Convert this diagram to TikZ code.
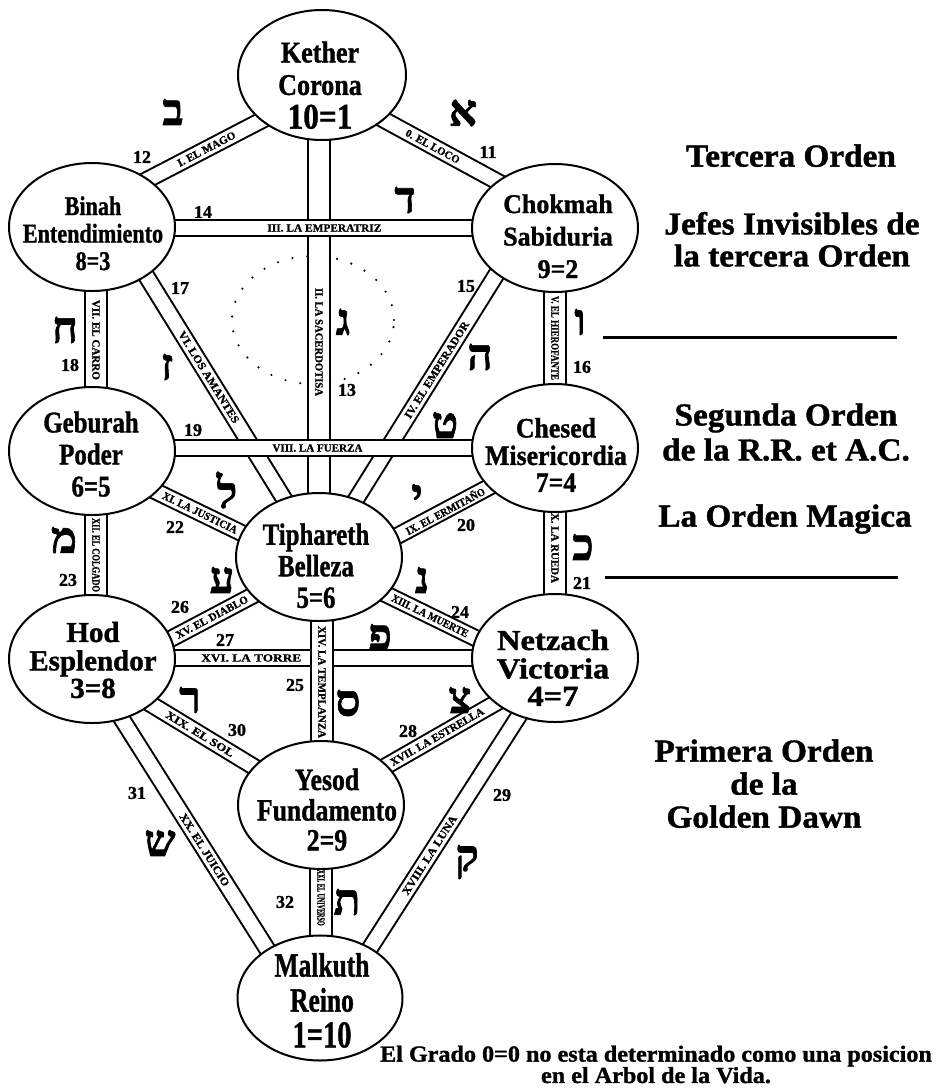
\documentclass[tikz,border=0pt]{standalone}
\usepackage{fontspec}
\setmainfont{Liberation Serif}[BoldFeatures={FakeBold=1.2}]
\newfontfamily\hebfont[Script=Hebrew, BoldFeatures={FakeBold=1.5}]{Liberation Serif}
\usetikzlibrary{shapes.geometric,calc}
\pgfdeclarelayer{canvas}\pgfdeclarelayer{bg}\pgfdeclarelayer{bands}\pgfdeclarelayer{labels}
\pgfsetlayers{canvas,bg,bands,labels,main}
\newcommand{\seph}[4]{\scalebox{#1}[1]{\fontsize{#2}{#3}\selectfont\bfseries\begin{tabular}{@{}c@{}}#4\end{tabular}}}
\newcommand{\bignum}[2]{{\fontsize{#1}{#1}\selectfont #2}}
% \pathband{style}{from}{to}{pos}{label}{width}
\newcommand{\pathband}[6]{%
 \begin{pgfonlayer}{bands}\draw[#1] #2 -- #3;\end{pgfonlayer}%
 \begin{pgfonlayer}{labels}\path #2 -- #3 node[blabel, pos=#4] {\resizebox{#6pt}{\height}{#5}};\end{pgfonlayer}}
\tikzset{
 sephira/.style={ellipse, draw, line width=2pt, fill=white, inner sep=0pt, minimum width=166pt, minimum height=128pt},
 band/.style={line width=2pt, double=white, double distance=14pt},
 vband/.style={line width=2pt, double=white, double distance=20pt},
 blabel/.style={sloped, inner sep=0pt, font=\fontsize{11}{11}\selectfont\bfseries},
 pnum/.style={font=\fontsize{18}{18}\selectfont\bfseries, inner sep=0pt},
 heb/.style={font=\fontsize{44}{44}\selectfont\hebfont\bfseries, inner sep=0pt},
 stext/.style={inner sep=0pt},
}
\begin{document}
\begin{tikzpicture}[x=1pt,y=-1pt]
\begin{pgfonlayer}{canvas}
\fill[white] (0,0) rectangle (937,1088);
\end{pgfonlayer}
\path[use as bounding box] (0,0) rectangle (937,1088);

% Sephiroth
\node[sephira, minimum width=168pt, minimum height=130pt] (kether) at (322,75) {};
\node[sephira] (binah) at (92,227) {};
\node[sephira] (chokmah) at (555,228) {};
\node[sephira] (geburah) at (92,451) {};
\node[sephira] (chesed) at (555,448) {};
\node[sephira] (tiphareth) at (319,557) {};
\node[sephira] (hod) at (92,659) {};
\node[sephira] (netzach) at (555,658) {};
\node[sephira] (yesod) at (321,805) {};
\node[sephira, minimum width=165pt, minimum height=125pt] (malkuth) at (320,998) {};

% Daath
\begin{pgfonlayer}{bg}
\node[ellipse, inner sep=0pt, minimum width=162pt, minimum height=128pt, draw, line width=2.4pt, line cap=round, dash pattern=on 0pt off 15pt] (daath) at (313,320) {};
\end{pgfonlayer}

% Paths
\pathband{band}{($(kether.center)+(-2,10)$)}{($(chokmah.center)+(0,-15)$)}{0.48}{0. EL LOCO}{60}
\pathband{band}{($(kether.center)+(-2,15)$)}{($(binah.center)+(1,-19)$)}{0.5}{I. EL MAGO}{64}
\pathband{vband}{($(kether.center)+(-3,0)$)}{(tiphareth.center)}{0.554}{II. LA SACERDOTISA}{108}
\pathband{band}{($(binah.center)+(0,1)$)}{(chokmah.center)}{0.502}{III. LA EMPERATRIZ}{114}
\pathband{band}{($(chokmah.center)+(-29,-1)$)}{($(tiphareth.center)+(1,0)$)}{0.433}{IV. EL EMPERADOR}{112}
\pathband{band}{($(binah.center)+(24,0)$)}{($(tiphareth.center)+(1,0)$)}{0.455}{VI. LOS AMANTES}{106}
\pathband{vband}{(chokmah.center)}{(chesed.center)}{0.5}{V. EL HIEROFANTE}{84}
\pathband{vband}{($(binah.center)+(4,0)$)}{($(geburah.center)+(4,0)$)}{0.504}{VII. EL CARRO}{80}
\pathband{band}{($(geburah.center)+(0,-3)$)}{(chesed.center)}{0.487}{VIII. LA FUERZA}{90}
\pathband{band}{($(chesed.center)+(0,4)$)}{($(tiphareth.center)+(1,20)$)}{0.468}{IX. EL ERMITA\~NO}{88}
\pathband{vband}{(chesed.center)}{(netzach.center)}{0.476}{X. LA RUEDA}{70}
\pathband{band}{($(geburah.center)+(1,10)$)}{($(tiphareth.center)+(1,14)$)}{0.471}{XI. LA JUSTICIA}{82}
\pathband{vband}{($(geburah.center)+(4,0)$)}{($(hod.center)+(4,0)$)}{0.5}{XII. EL COLGADO}{74}
\pathband{band}{($(tiphareth.center)+(1,5)$)}{($(netzach.center)+(0,19)$)}{0.468}{XIII. LA MUERTE}{84}
\pathband{band}{($(tiphareth.center)+(1,3)$)}{($(hod.center)+(1,21)$)}{0.476}{XV. EL DIABLO}{80}
\pathband{band}{($(hod.center)+(0,-1)$)}{(netzach.center)}{0.344}{XVI. LA TORRE}{100}
\pathband{vband}{($(tiphareth.center)+(3,0)$)}{($(yesod.center)+(1,0)$)}{0.504}{XIV. LA TEMPLANZA}{112}
\pathband{band}{($(netzach.center)+(0,11)$)}{($(yesod.center)+(-1,-1)$)}{0.502}{XVII. LA ESTRELLA}{106}
\pathband{band}{($(netzach.center)+(1,0)$)}{($(malkuth.center)+(18,0)$)}{0.58}{XVIII. LA LUNA}{92}
\pathband{band}{($(hod.center)+(1,10)$)}{($(yesod.center)+(-1,2)$)}{0.471}{XIX. EL SOL}{78}
\pathband{band}{($(hod.center)+(-8,0)$)}{($(malkuth.center)+(-22,0)$)}{0.563}{XX. EL JUICIO}{84}
\pathband{vband}{(yesod.center)}{($(malkuth.center)+(1,0)$)}{0.48}{XXI. EL UNIVERSO}{56}

% Sephira texts
\node[stext] (kether-t) at (320,89) {\seph{0.87}{30}{32.5}{Kether\\Corona\\\bignum{36}{10=1}}};
\node[stext] (binah-t) at (93,237) {\seph{0.82}{27}{27.5}{Binah\\Entendimiento\\8=3}};
\node[stext] (chokmah-t) at (558,239) {\seph{0.96}{27}{32.5}{Chokmah\\Sabiduria\\9=2}};
\node[stext] (geburah-t) at (91,458) {\seph{0.83}{30}{32}{Geburah\\Poder\\6=5}};
\node[stext] (chesed-t) at (556,459) {\seph{0.92}{28}{27}{Chesed\\Misericordia\\7=4}};
\node[stext] (tiphareth-t) at (316,570) {\seph{0.8}{31}{31.5}{Tiphareth\\Belleza\\5=6}};
\node[stext] (hod-t) at (93,664) {\seph{1.0}{29}{27.5}{Hod\\Esplendor\\3=8}};
\node[stext] (netzach-t) at (553,672) {\seph{1.12}{29}{27.5}{Netzach\\Victoria\\4=7}};
\node[stext] (yesod-t) at (327,814) {\seph{0.83}{31}{30}{Yesod\\Fundamento\\2=9}};
\node[stext] (malkuth-t) at (322,1005) {\seph{0.75}{34}{35}{Malkuth\\Reino\\\bignum{38}{1=10}}};

% Path numbers
\node[pnum] (n11) at (488,152) {11};
\node[pnum] (n12) at (142,157) {12};
\node[pnum] (n13) at (347,390) {13};
\node[pnum] (n14) at (203,212) {14};
\node[pnum] (n15) at (466,286) {15};
\node[pnum] (n16) at (582,367) {16};
\node[pnum] (n17) at (180,288) {17};
\node[pnum] (n18) at (70,365) {18};
\node[pnum] (n19) at (193,430) {19};
\node[pnum] (n20) at (466,525) {20};
\node[pnum] (n21) at (582,583) {21};
\node[pnum] (n22) at (175,527) {22};
\node[pnum] (n23) at (68,580) {23};
\node[pnum] (n24) at (460,612) {24};
\node[pnum] (n25) at (295,685) {25};
\node[pnum] (n26) at (180,607) {26};
\node[pnum] (n27) at (225,640) {27};
\node[pnum] (n28) at (408,731) {28};
\node[pnum] (n29) at (502,795) {29};
\node[pnum] (n30) at (237,730) {30};
\node[pnum] (n31) at (137,793) {31};
\node[pnum] (n32) at (285,902) {32};

% Hebrew letters
\node[heb] (h11) at (463,113) {א};
\node[heb] (h12) at (173,112) {ב};
\node[heb] (h13) at (343,322) {ג};
\node[heb] (h14) at (405,200) {ד};
\node[heb] (h15) at (480,357) {ה};
\node[heb] (h16) at (580,322) {ו};
\node[heb] (h17) at (167,367) {ז};
\node[heb] (h18) at (65,330) {ח};
\node[heb] (h19) at (445,425) {ט};
\node[heb] (h20) at (417,497) {י};
\node[heb] (h21) at (583,547) {כ};
\node[heb] (h22) at (227,490) {ל};
\node[heb] (h23) at (64,540) {מ};
\node[heb] (h24) at (422,580) {נ};
\node[heb] (h25) at (348,703) {ס};
\node[heb] (h26) at (222,580) {ע};
\node[heb] (h27) at (380,637) {פ};
\node[heb] (h28) at (460,700) {צ};
\node[heb] (h29) at (467,862) {ק};
\node[heb] (h30) at (190,700) {ר};
\node[heb] (h31) at (160,843) {ש};
\node[heb] (h32) at (347,902) {ת};

% Orders
\node[stext] (tercera) at (791,160) {\seph{1.04}{32}{33}{Tercera Orden}};
\node[stext] (jefes) at (792,244) {\seph{1.04}{32}{32}{Jefes Invisibles de\\la tercera Orden}};
\draw[line width=3pt] (603,337) -- (897,337);
\node[stext] (segunda) at (786,436) {\seph{1.04}{32}{35}{Segunda Orden\\de la R.R. et A.C.}};
\node[stext] (magica) at (785,520) {\seph{1.04}{32}{33}{La Orden Magica}};
\draw[line width=3pt] (605,577) -- (898,577);
\node[stext] (primera) at (764,788) {\seph{1.04}{32}{33}{Primera Orden\\de la\\Golden Dawn}};

% Footer
\node[stext] (footer) at (656,1067) {\seph{1.05}{23}{18}{El Grado 0=0 no esta determinado como una posicion\\en el Arbol de la Vida.}};
\end{tikzpicture}
\end{document}
